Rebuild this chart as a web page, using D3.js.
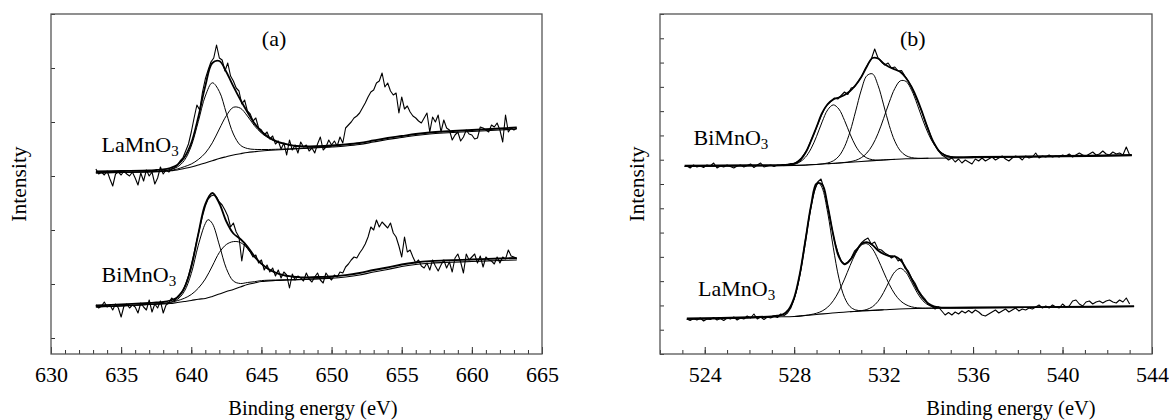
<!DOCTYPE html>
<html>
<head>
<meta charset="utf-8">
<script src="https://cdn.jsdelivr.net/npm/d3@7"></script>
<style>
  body { margin: 0; background: #fff; }
  svg { display: block; }
  text { font-family: "Liberation Serif", "Times New Roman", serif; font-size: 22px; fill: #000; }
  .title { font-size: 20.5px; }
  .ytitle { font-size: 21.5px; }
</style>
</head>
<body>
<svg id="chart" width="1169" height="420"></svg>
<script>
// ---------- (a) Mn 2p : raw spectra on an even energy grid ----------
const mnStart = 633.2, mnStep = 0.2;
const laMnData = [185,180,182,179,183,175,168,180,182,179,183,180,178,182,176,169,181,173,184,178,
  182,170,176,187,180,184,182,185,186,189,193,196,203,210,222,236,249,244,262,275,
  284,292,296,309,296,294,283,291,278,273,266,263,250,254,243,240,233,236,226,224,
  219,222,215,218,210,213,205,211,199,214,204,209,201,212,207,209,203,206,201,210,
  217,204,207,214,209,213,208,217,211,226,229,232,236,238,241,246,251,257,262,264,
  271,273,281,267,271,263,259,261,241,257,245,248,242,238,236,233,231,236,241,222,
  237,232,239,222,234,226,224,214,219,222,213,217,224,220,219,215,216,227,226,224,
  222,229,227,231,224,212,239,222,226,224,226];
const biMnData = [49,46,48,52,47,49,44,50,46,37,48,50,46,49,47,41,51,47,44,54,
  42,50,46,53,41,49,51,56,53,57,60,63,70,78,89,101,114,126,138,148,
  155,158,159,157,152,149,144,138,127,131,122,117,93,111,106,102,97,99,91,94,
  84,89,82,86,78,84,76,82,79,66,80,74,78,76,73,81,75,72,77,81,
  74,71,81,77,74,79,77,82,81,87,90,94,97,96,101,105,110,117,127,124,
  134,127,132,129,126,131,121,117,108,97,117,102,104,97,91,94,88,86,91,84,
  94,88,83,89,94,86,92,82,96,100,92,81,100,94,97,100,91,98,87,97,
  94,93,90,97,91,97,95,104,98,97,95];

// fitted curves, [binding energy, intensity]
const laMnBg = [[633.2,181],[635,181.5],[637,182],[638,182.5],[638.5,183.2],[639,184],[639.5,185.5],[640,187],[640.5,189],[641,191],[641.5,193.2],[642,195.5],[642.5,197.3],[643,199],[643.5,200.3],[644,201.5],[644.5,202.3],[645,203],[646,204],[647,204.8],[648,205.5],[649,206.2],[650,207],[651,208],[652,209.5],[653,212],[654,214.5],[655,216.5],[656,218.5],[657,220],[658,221],[660,222.5],[662,224],[663.2,225]];
const laMnEnv = [[633.2,182.5],[635,183],[637,183.6],[637.5,184],[638,184.5],[638.5,186],[639,189],[639.5,196.5],[640,211],[640.5,237],[641,268],[641.5,291],[642,293],[642.5,282],[643,267.7],[643.5,254.3],[644,242],[644.5,230.6],[645,222.5],[645.5,217],[646,213.2],[646.5,210.8],[647,209.2],[647.5,208],[648,207.5],[649,207.8],[650,208.5],[651,209.5],[652,211],[653,213.5],[654,216],[655,218],[656,220],[657,221.5],[658,222.5],[660,224],[662,225.5],[663.2,226.5]];
const laMnP1 = [[633.2,181.2],[636,181.9],[637.5,182.6],[638,183.3],[638.5,184.7],[639,187],[639.5,193.5],[640,208],[640.5,232.5],[641,258],[641.5,271.2],[642,262.5],[642.5,240.8],[643,220],[643.5,208.8],[644,205.5],[644.5,204.6],[645,204.5],[645.5,204.5],[646,204.7],[647,205.2],[648,205.8],[650,207.3]];
const laMnP2 = [[633.2,181.2],[636,181.9],[638,182.8],[638.5,183.7],[639,185],[639.5,187.3],[640,190],[640.5,194.5],[641,201],[641.5,211.2],[642,225],[642.5,238.3],[643,246.7],[643.5,245.8],[644,238],[644.5,228.3],[645,221],[645.5,216],[646,212.5],[646.5,210.4],[647,208.8],[647.5,207.9],[648,207.5],[649,207.2],[650,207.5]];

const biMnBg = [[633.2,47],[635,48],[637,49.5],[638,50],[638.5,50.5],[639,51.5],[639.5,52.5],[640,53.5],[640.5,54.8],[641,55.5],[641.5,57.5],[642,60],[642.5,62.5],[643,64.5],[643.5,67],[644,69.5],[644.5,71],[645,72.5],[646,73.5],[647,74],[648,74.5],[650,75.7],[651,77],[652,79],[653,82],[654,84.5],[655,87.5],[656,89.5],[657,90.8],[658,91.5],[660,92.5],[662,93.5],[663.2,94]];
const biMnEnv = [[633.2,48.5],[635,49.5],[637,51],[637.5,51.5],[638,52],[638.5,53.5],[639,56.5],[639.5,66],[640,87],[640.5,120],[641,150],[641.5,161],[642,150.5],[642.5,132.5],[643,120.5],[643.5,115],[644,107.5],[644.5,97.8],[645,90.4],[645.5,85],[646,81.5],[646.5,79.2],[647,77.8],[647.5,77],[648,76.5],[649,77],[650,77.5],[651,78.8],[652,81],[653,84],[654,86.5],[655,89.5],[656,91.5],[657,92.8],[658,93.5],[660,94.5],[662,95.5],[663.2,96]];
const biMnP1 = [[633.2,47.2],[636,48.8],[637.5,50.2],[638,50.7],[638.5,51.8],[639,54.5],[639.5,62.5],[640,80.5],[640.5,108.8],[641,130.5],[641.2,134.3],[641.5,130.5],[642,109],[642.5,85.5],[643,73],[643.5,70.5],[644,71.5],[644.5,72.3],[645,73.4],[646,74],[647,74.3],[648,74.7],[650,75.9]];
const biMnP2 = [[633.2,47.2],[636,48.8],[638,50.5],[638.5,51.5],[639,53.3],[639.5,55.7],[640,59.5],[640.5,65.8],[641,75],[641.5,88],[642,101.5],[642.5,109.5],[643,112.4],[643.5,111.5],[644,105.5],[644.5,96.5],[645,89.5],[645.5,84.5],[646,81],[646.5,78.8],[647,77.5],[647.5,76.7],[648,76.3],[649,76.1],[650,76.2]];

// ---------- (b) O 1s ----------
const oStart = 523.2, oStep = 0.15;
const biOData = [188,186,189,187,188,186.5,189,188,191,186,188,187,189,187.5,186,188,189,187,188.5,190,
  186.5,189,191,187,188,189,187.5,189,188.5,189.5,189,190.5,190.5,192.5,195.5,200,205,213.5,221,229.5,
  238,245,249.5,253,256,255,258.5,262,259.5,266,267,272,277,284,290,295,305,296,292.5,289,
  291,286,287,283,283.5,278,273,267,259,251,243,233,225,215,209,203,199,197,194,196,
  192,195,191,194,192,190,195,193,196,193,195,197,194,196,198,195,193,196,198,197,
  194,198,196,197,201,196,198,197,199,197,198,197,199,198,200,197,199,201,199,198,
  200,202,199,200,203,200,199,202,200,201,199,207,199];
const laOData = [35,33.5,35.5,34,36,33,35,34.5,36.5,34,35.5,33.5,36,35,37,34,36,35,38,36,
  40,35,37,34.5,37,36,38,36.5,40,38.5,41,46,55,68,85,107,128,148,163,172,
  175,164,148,130,113,102,93,90,92,96,103,106,111,114,116,110,112,105,104,101,
  99,96,98,93,95,86,83,76,71,64,59,55,50,48,45,47,43,39,41.5,39,
  42,40,43,41,43.5,41,44,42,39,38,40,42,44,41,43,45,42,44,46,43,
  45,44,46,45,47,49,46,48,46,49,47,46,50,47,48,53,54,50,48,52,
  53,50,52,53,51,53,54,52,51,54,52,56,50];

const biOBg = [[523.1,187.5],[526,188],[528,188.5],[529,189.5],[530,191],[531,192.5],[532,194],[533,195.2],[534,195.8],[536,196.3],[540,197.3],[543.1,198.3]];
const biOEnv = [[523.1,188.3],[526,188.8],[527.5,189],[527.75,189.5],[528,190.3],[528.25,193.5],[528.5,201],[528.75,213],[529,227],[529.25,241],[529.5,250],[529.75,254.5],[530,256.5],[530.25,259],[530.5,263],[530.75,269],[531,277],[531.25,287.5],[531.5,296],[531.75,295.5],[532,290.5],[532.25,287],[532.5,284.5],[532.75,282],[533,276],[533.25,267],[533.5,255],[533.75,240],[534,224],[534.25,211],[534.5,202.5],[534.75,198.5],[535,197],[536,197],[540,198],[543.1,199]];
const biOP1 = [[523.1,187.6],[526,188.1],[527.5,188.5],[527.75,188.7],[528,189.6],[528.25,191.9],[528.5,196.7],[528.75,205.2],[529,217.6],[529.25,232.1],[529.5,244.2],[529.75,249.1],[530,244.9],[530.25,233.6],[530.5,219.9],[530.75,208],[531,200.2],[531.25,196],[531.5,194.3],[531.75,193.9],[532,194.1],[532.5,194.6]];
const biOP2 = [[527.5,188.4],[528.5,189],[528.75,189.3],[529,189.55],[529.25,190.1],[529.5,191.05],[529.75,193.15],[530,197.85],[530.25,207.2],[530.5,222.45],[530.75,242.9],[531,263.9],[531.25,278.3],[531.5,280.15],[531.75,268.6],[532,249.1],[532.25,228.6],[532.5,212.8],[532.75,203.1],[533,198.3],[533.25,196.4],[533.5,195.8],[534,195.8]];
const biOP3 = [[529.5,190.25],[530,191],[530.5,192.33],[530.75,193.67],[531,196.27],[531.25,201],[531.5,208.85],[531.75,220.5],[532,235.6],[532.25,251.7],[532.5,265.5],[532.75,273.2],[533,272.6],[533.25,263.85],[533.5,249.8],[533.75,234.05],[534,220.2],[534.25,209.65],[534.5,202.9],[534.75,199.2],[535,197.35],[535.25,196.5],[535.5,196.3],[536,196.3]];

const laOBg = [[523.2,34.7],[526,36],[527,37],[528,37.5],[528.5,38.5],[529,39.5],[530,41.5],[531,43],[532,44.2],[533,45.3],[534,45.8],[536,46.1],[540,46.7],[543.2,47.3]];
const laOEnv = [[523.2,35.5],[526,36.8],[527,37.7],[527.25,38.3],[527.5,39.8],[527.75,44.5],[528,56.5],[528.25,80],[528.5,113.5],[528.75,148],[529,170.5],[529.25,169.5],[529.5,147.8],[529.75,119],[530,97.1],[530.25,89.6],[530.5,93.8],[530.75,102.3],[531,109.9],[531.25,111.8],[531.5,109],[531.75,103.5],[532,100],[532.25,98],[532.5,97.6],[532.75,94],[533,85.5],[533.25,75],[533.5,64.5],[533.75,56],[534,50.5],[534.25,47.7],[534.5,46.7],[534.75,46.4],[535,46.3],[536,46.5],[540,47.2],[543.2,47.8]];
const laOP1 = [[523.2,34.8],[526,36.1],[527,37.1],[527.25,37.7],[527.5,39.2],[527.75,43.8],[528,55.2],[528.25,77.7],[528.5,110.8],[528.75,146],[529,168.4],[529.1,170.7],[529.25,166.2],[529.5,141.1],[529.75,106.2],[530,75.8],[530.25,56.6],[530.5,47.35],[530.75,44.05],[531,43.34],[531.25,43.36],[531.5,43.6],[532,44.2]];
const laOP2 = [[528,37.5],[528.5,38.67],[528.75,39.48],[529,40.77],[529.25,43],[529.5,46.9],[529.75,53.3],[530,62.8],[530.25,74.9],[530.5,88.45],[530.75,100.7],[531,108.8],[531.25,110.3],[531.5,105.1],[531.75,94.7],[532,81.9],[532.25,69.7],[532.5,59.95],[532.75,53.2],[533,49.3],[533.25,47.15],[533.5,46.2],[533.75,45.9],[534,45.88],[534.5,45.9]];
const laOP3 = [[530.5,42.25],[531,43.34],[531.25,44.54],[531.5,47.25],[531.75,52.7],[532,61.6],[532.25,72.7],[532.5,82.15],[532.75,85.7],[533,81.5],[533.25,71.8],[533.5,61.3],[533.75,53.35],[534,48.9],[534.25,46.87],[534.5,46.18],[534.75,46],[535,46],[536,46.1]];

// axis ticks
const mnMajor = [630, 635, 640, 645, 650, 655, 660, 665];
const oMajor = [524, 528, 532, 536, 540, 544];

const svg = d3.select('#chart');

const panels = [
  {
    left: 51, right: 542, top: 14, bottom: 354,
    xDomain: [630, 665], major: mnMajor, minor: d3.range(630, 666, 1),
    yTicks: d3.range(16, 341, 54),
    titleX: 313, yTitleX: 26,
    tag: '(a)', tagAt: [645.9, 308],
    spectra: [
      { raw: laMnData, start: mnStart, step: mnStep, bg: laMnBg, env: laMnEnv, peaks: [laMnP1, laMnP2], name: 'LaMnO', at: [633.6, 202] },
      { raw: biMnData, start: mnStart, step: mnStep, bg: biMnBg, env: biMnEnv, peaks: [biMnP1, biMnP2], name: 'BiMnO', at: [633.6, 72] }
    ]
  },
  {
    left: 660, right: 1152, top: 14, bottom: 354,
    xDomain: [522, 544], major: oMajor, minor: d3.range(522, 545, 1),
    yTicks: d3.range(0, 15).map(i => i * 340 / 14),
    titleX: 1011, yTitleX: 644,
    tag: '(b)', tagAt: [533.3, 308],
    spectra: [
      { raw: biOData, start: oStart, step: oStep, bg: biOBg, env: biOEnv, peaks: [biOP1, biOP2, biOP3], name: 'BiMnO', at: [523.5, 209] },
      { raw: laOData, start: oStart, step: oStep, bg: laOBg, env: laOEnv, peaks: [laOP1, laOP2, laOP3], name: 'LaMnO', at: [523.7, 58] }
    ]
  }
];

panels.forEach(p => {
  const g = svg.append('g');
  const x = d3.scaleLinear().domain(p.xDomain).range([p.left, p.right]);
  const y = d3.scaleLinear().domain([0, 340]).range([p.bottom, p.top]);

  // minor x ticks, pointing inward
  g.append('g')
    .attr('transform', `translate(0,${p.bottom})`)
    .call(d3.axisBottom(x).tickValues(p.minor).tickSize(-4).tickSizeOuter(0).tickFormat(''))
    .call(a => a.select('.domain').remove())
    .attr('color', '#333');

  // major x ticks with labels
  g.append('g')
    .attr('transform', `translate(0,${p.bottom})`)
    .call(d3.axisBottom(x).tickValues(p.major).tickSize(-7).tickSizeOuter(0).tickPadding(12).tickFormat(d3.format('d')))
    .call(a => a.select('.domain').remove())
    .attr('color', '#333')
    .attr('font-size', null).attr('font-family', null)
    .selectAll('text').attr('fill', '#000');

  // y ticks, no labels
  g.append('g')
    .attr('transform', `translate(${p.left},0)`)
    .call(d3.axisLeft(y).tickValues(p.yTicks).tickSize(-4).tickSizeOuter(0).tickFormat(''))
    .call(a => a.select('.domain').remove())
    .attr('color', '#333');

  // frame
  g.append('rect')
    .attr('x', p.left).attr('y', p.top)
    .attr('width', p.right - p.left).attr('height', p.bottom - p.top)
    .attr('fill', 'none').attr('stroke', '#555').attr('stroke-width', 1.3);

  const fit = d3.line()
    .x(d => x(d[0])).y(d => y(d[1]))
    .curve(d3.curveCatmullRom.alpha(0.5));

  p.spectra.forEach(s => {
    g.append('path').datum(s.bg)
      .attr('fill', 'none').attr('stroke', '#000').attr('stroke-width', 1.1)
      .attr('d', fit);

    s.peaks.forEach(pk => {
      g.append('path').datum(pk)
        .attr('fill', 'none').attr('stroke', '#000').attr('stroke-width', 1)
        .attr('d', fit);
    });

    g.append('path').datum(s.env)
      .attr('fill', 'none').attr('stroke', '#000').attr('stroke-width', 1.8)
      .attr('d', fit);

    const raw = d3.line()
      .x((d, i) => x(s.start + i * s.step))
      .y(d => y(d));
    g.append('path').datum(s.raw)
      .attr('fill', 'none').attr('stroke', '#000').attr('stroke-width', 1.1)
      .attr('stroke-linejoin', 'round')
      .attr('d', raw);

    const t = g.append('text').attr('x', x(s.at[0])).attr('y', y(s.at[1]));
    t.append('tspan').text(s.name);
    t.append('tspan').attr('font-size', '15px').attr('dy', 4).text('3');
  });

  g.append('text')
    .attr('x', x(p.tagAt[0])).attr('y', y(p.tagAt[1]))
    .attr('text-anchor', 'middle')
    .text(p.tag);

  g.append('text')
    .attr('class', 'title')
    .attr('x', p.titleX).attr('y', 415)
    .attr('text-anchor', 'middle')
    .text('Binding energy (eV)');

  g.append('text')
    .attr('class', 'ytitle')
    .attr('transform', `translate(${p.yTitleX},${(p.top + p.bottom) / 2}) rotate(-90)`)
    .attr('text-anchor', 'middle')
    .text('Intensity');
});
</script>
</body>
</html>
